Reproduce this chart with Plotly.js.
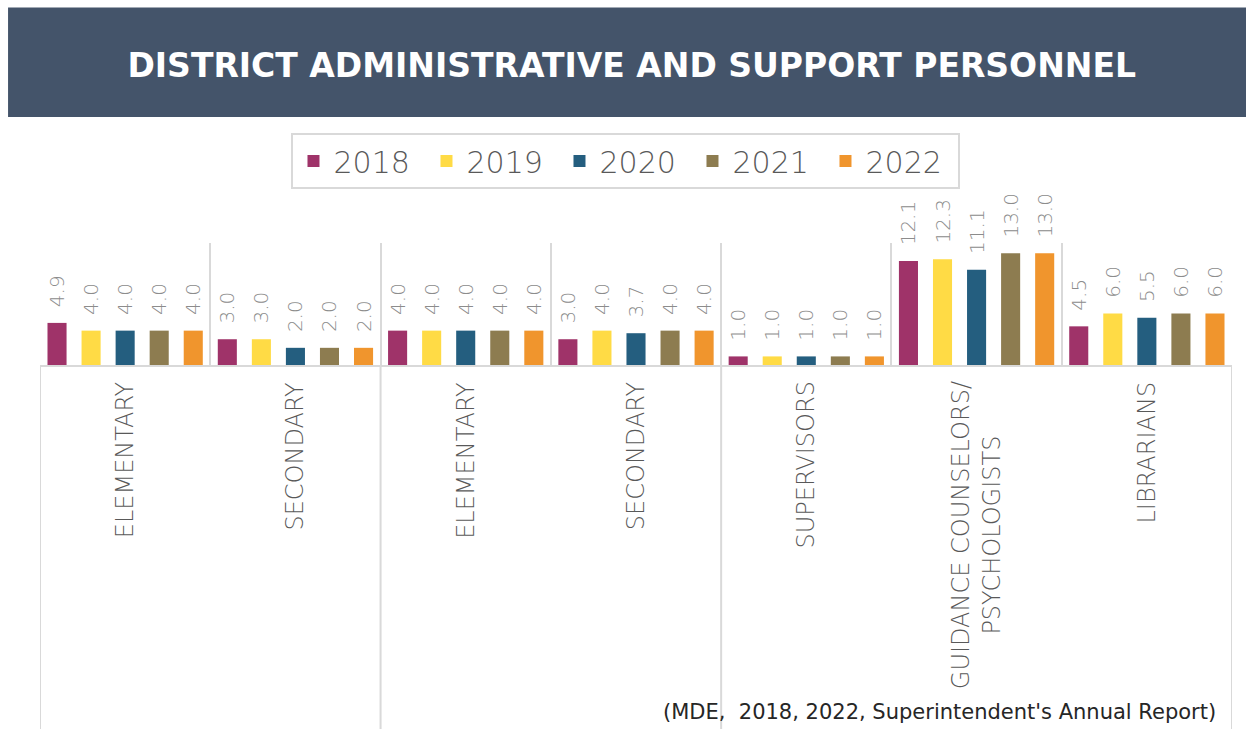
<!DOCTYPE html>
<html>
<head>
<meta charset="utf-8">
<script src="https://cdn.plot.ly/plotly-3.0.1.min.js"></script>
<style>html,body{margin:0;padding:0;background:#fff;}#chart{width:1246px;height:729px;}</style>
</head>
<body>
<div id="chart"></div>
<script>
// ---- data ----
const categories = ["ELEMENTARY", "SECONDARY", "ELEMENTARY", "SECONDARY", "SUPERVISORS", "GUIDANCE COUNSELORS/<br>PSYCHOLOGISTS", "LIBRARIANS"];
const years = ["2018", "2019", "2020", "2021", "2022"];
const v2018 = [4.9, 3.0, 4.0, 3.0, 1.0, 12.1, 4.5];
const v2019 = [4.0, 3.0, 4.0, 4.0, 1.0, 12.3, 6.0];
const v2020 = [4.0, 2.0, 4.0, 3.7, 1.0, 11.1, 5.5];
const v2021 = [4.0, 2.0, 4.0, 4.0, 1.0, 13.0, 6.0];
const v2022 = [4.0, 2.0, 4.0, 4.0, 1.0, 13.0, 6.0];
const groupBoundaries = [-0.5, 1.5, 3.5, 6.5]; // outer-level category separators
const titleText = "DISTRICT ADMINISTRATIVE AND SUPPORT PERSONNEL";
const sourceText = "(MDE,  2018, 2022, Superintendent's Annual Report)";

// ---- styles ----
const colors = ["#9F3369", "#FFDB45", "#245E7F", "#8D7C50", "#F0952D"];
const series = [v2018, v2019, v2020, v2021, v2022];
const idx = categories.map((_, i) => i);
const thinFont = "'DejaVu Sans', sans-serif";

const traces = series.map((vals, k) => ({
  type: "bar",
  name: years[k],
  x: idx,
  y: vals,
  marker: {color: colors[k]},
  texttemplate: "\u00A0\u00A0%{y:.1f}",
  textposition: "outside",
  textangle: -90,
  constraintext: "none",
  cliponaxis: false,
  textfont: {family: thinFont, size: 20, color: "#8C8C8C", weight: 200},
  hoverinfo: "x+y+name"
}));

const shapes = [
  {type: "rect", xref: "paper", yref: "paper", x0: -0.0268, x1: 1.02, y0: 2.033, y1: 2.93,
   fillcolor: "#44546A", line: {width: 0}, layer: "below"}
];
groupBoundaries.forEach(b => shapes.push({
  type: "line", xref: "x", yref: "paper", x0: b, x1: b, y0: 0, y1: -3.1,
  line: {color: "#D9D9D9", width: 2}
}));

const annotations = categories.map((c, i) => ({
  x: i, xref: "x", y: -0.12, yref: "paper", yanchor: "top", xanchor: "center",
  text: c, textangle: -90, showarrow: false, align: "center",
  font: {family: thinFont, size: 24, color: "#595959", weight: 200}
}));
annotations.push({
  x: 0.988, xref: "paper", xanchor: "right", y: -2.845, yref: "paper", yanchor: "middle",
  text: sourceText, showarrow: false,
  font: {family: thinFont, size: 21, color: "#262626"}
});

const layout = {
  width: 1246, height: 729,
  margin: {l: 40, r: 14, t: 243, b: 364, pad: 0},
  paper_bgcolor: "#FFFFFF", plot_bgcolor: "#FFFFFF",
  title: {
    text: "<b>" + titleText + "</b>",
    x: 0.507, xanchor: "center", y: 1 - 65/729, yanchor: "middle",
    font: {family: "'DejaVu Sans', sans-serif", size: 33, color: "#FFFFFF"}
  },
  barmode: "group", bargap: 0, bargroupgap: 0.44,
  showlegend: true,
  legend: {
    orientation: "h", x: 0.4916, xanchor: "center", y: 1.672, yanchor: "middle",
    bordercolor: "#D9D9D9", borderwidth: 2, entrywidth: 88, entrywidthmode: "pixels",
    font: {family: thinFont, size: 30, color: "#595959", weight: 200}, itemwidth: 30
  },
  xaxis: {
    range: [-0.5, 6.5], tickmode: "array", tickvals: [-0.5, 0.5, 1.5, 2.5, 3.5, 4.5, 5.5, 6.5],
    showticklabels: false, ticks: "", showgrid: true, gridcolor: "#D9D9D9", gridwidth: 2,
    showline: true, linecolor: "#D9D9D9", linewidth: 2, zeroline: false, fixedrange: true
  },
  yaxis: {range: [0, 14.2], visible: false, showgrid: false, zeroline: false, fixedrange: true},
  shapes: shapes,
  annotations: annotations
};

Plotly.newPlot("chart", traces, layout, {displayModeBar: false, staticPlot: true});
</script>
</body>
</html>
